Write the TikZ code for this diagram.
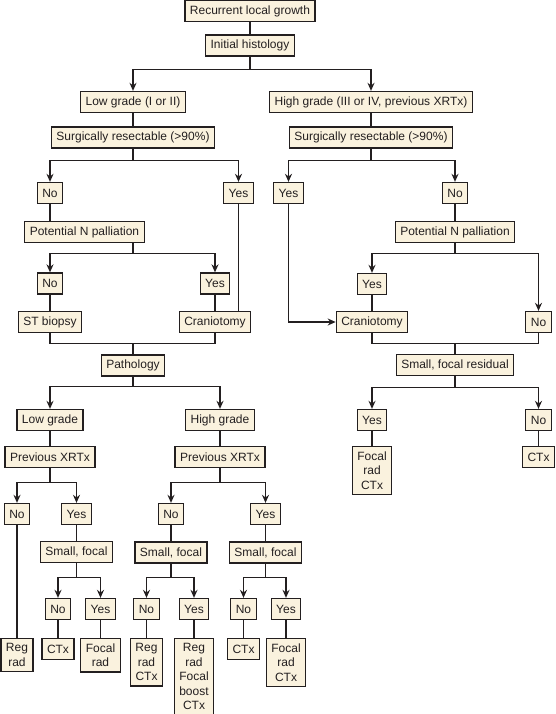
\documentclass[tikz,border=0pt]{standalone}
\usepackage{fontspec}
\setmainfont{Liberation Sans}
\usepackage{xcolor}
\definecolor{boxcream}{RGB}{250, 242, 222}
\definecolor{boxink}{RGB}{35, 31, 32}
\usetikzlibrary{arrows.meta}

\begin{document}
\begin{tikzpicture}[x=1pt, y=-1pt, >={Stealth[length=8pt, width=7pt]}, every node/.style={font=\fontsize{12}{13.5}\selectfont, text=boxink},
    box/.style={draw=boxink, fill=boxcream, line width=1.3pt, rectangle, inner xsep=5pt, inner ysep=0pt, minimum height=21pt},
    stack/.style={box, align=center, inner ysep=5pt, anchor=north, font=\fontsize{12}{14.5}\selectfont},
    link/.style={draw=boxink, line width=1.3pt}]
    \useasboundingbox (0,0) rectangle (556,714);

    \node [box] (rec) at (250,11) {Recurrent local growth};
    \node [box] (init) at (250,45.5) {Initial histology};
    \node [box] (lowg) at (133,102) {Low grade (I or II)};
    \node [box] (highg) at (371,102) {High grade (III or IV, previous XRTx)};
    \node [box] (surgl) at (133,137.5) {Surgically resectable (>90\%)};
    \node [box] (surgr) at (371,137.5) {Surgically resectable (>90\%)};

    \node [box] (nol) at (50,193) {No};
    \node [box] (yesl) at (238.5,193) {Yes};
    \node [box] (yesr) at (288.5,193) {Yes};
    \node [box] (nor) at (455,193) {No};
    \node [box] (potl) at (84.5,232) {Potential N palliation};
    \node [box] (potr) at (455,232) {Potential N palliation};
    \node [box] (nol2) at (50,283.5) {No};
    \node [box] (yesl2) at (215,283.5) {Yes};
    \node [box] (yesr2) at (372,284) {Yes};
    \node [box] (stb) at (50,322) {ST biopsy};
    \node [box] (crl) at (215,322) {Craniotomy};
    \node [box] (crr) at (372,322) {Craniotomy};
    \node [box] (nor2) at (538.5,322) {No};

    \node [box] (path) at (133,365.5) {Pathology};
    \node [box] (sfr) at (455,365) {Small, focal residual};
    \node [box] (yessr) at (372,420) {Yes};
    \node [box] (nosr) at (538.5,420) {No};
    \node [stack] (frcr) at (372,446) {Focal\\rad\\CTx};
    \node [stack] (ctxr) at (538.5,446) {CTx};

    \node [box] (lowp) at (50,420) {Low grade};
    \node [box] (highp) at (220,420) {High grade};
    \node [box] (prevl) at (50,457) {Previous XRTx};
    \node [box] (prevh) at (220,457) {Previous XRTx};
    \node [box] (nolo) at (17,514) {No};
    \node [box] (yeslo) at (76.5,514) {Yes};
    \node [box] (nohi) at (171,514) {No};
    \node [box] (yeshi) at (265.5,514) {Yes};
    \node [box] (sflo) at (76.5,552) {Small, focal};
    \node [box] (sfhn) at (171,552.5) {Small, focal};
    \node [box] (sfhy) at (265.5,552.5) {Small, focal};

    \node [box] (noa) at (58,609) {No};
    \node [box] (yesa) at (100.5,609) {Yes};
    \node [box] (nob) at (146.5,609) {No};
    \node [box] (yesb) at (194,609) {Yes};
    \node [box] (noc) at (243.5,609) {No};
    \node [box] (yesc) at (286,609) {Yes};
    \node [stack] (rr) at (17,638) {Reg\\rad};
    \node [stack] (ctxa) at (58,638) {CTx};
    \node [stack] (fra) at (100.5,638) {Focal\\rad};
    \node [stack] (rrc) at (146.5,638) {Reg\\rad\\CTx};
    \node [stack] (rrfb) at (194,638) {Reg\\rad\\Focal\\boost\\CTx};
    \node [stack] (ctxc) at (243.5,638) {CTx};
    \node [stack] (frcc) at (286,638) {Focal\\rad\\CTx};

    \draw [link] (rec) -- (init);
    \draw [link, ->] (init.south) -- ++(0,13) -| (lowg);
    \draw [link, ->] (init.south) -- ++(0,13) -| (highg);
    \draw [link] (lowg) -- (surgl);
    \draw [link] (highg) -- (surgr);
    \draw [link, ->] (surgl.south) -- ++(0,12) -| (nol);
    \draw [link, ->] (surgl.south) -- ++(0,12) -| (yesl);
    \draw [link, ->] (surgr.south) -- ++(0,12) -| (yesr);
    \draw [link, ->] (surgr.south) -- ++(0,12) -| (nor);

    \draw [link] (nol) -- (nol |- potl.north);
    \draw [link, ->] (surgl |- potl.south) -- ++(0,10) -| (nol2);
    \draw [link, ->] (surgl |- potl.south) -- ++(0,10) -| (yesl2);
    \draw [link] (nol2) -- (stb);
    \draw [link] (yesl2) -- (crl);
    \draw [link] (yesl) -- (yesl |- crl.north);
    \draw [link] (stb.south) -- ++(0,10) -| (crl.south);
    \draw [link] (path.north) -- ++(0,-11.5);

    \draw [link] (nor) -- (potr);
    \draw [link, ->] (potr.south) -- ++(0,10) -| (yesr2);
    \draw [link, ->] (potr.south) -- ++(0,10) -| (nor2);
    \draw [link] (yesr2) -- (crr);
    \draw [link, ->] (yesr.south) |- (crr);
    \draw [link] (crr.south) -- ++(0,10) -| (nor2.south);
    \draw [link] (sfr.north) -- ++(0,-11);
    \draw [link, ->] (sfr.south) -- ++(0,11) -| (yessr);
    \draw [link, ->] (sfr.south) -- ++(0,11) -| (nosr);
    \draw [link] (yessr) -- (frcr);
    \draw [link] (nosr) -- (ctxr);

    \draw [link, ->] (path.south) -- ++(0,10) -| (lowp);
    \draw [link, ->] (path.south) -- ++(0,10) -| (highp);
    \draw [link] (lowp) -- (prevl);
    \draw [link] (highp) -- (prevh);
    \draw [link, ->] (prevl.south) -- ++(0,14) -| (nolo);
    \draw [link, ->] (prevl.south) -- ++(0,14) -| (yeslo);
    \draw [link, ->] (prevh.south) -- ++(0,14) -| (nohi);
    \draw [link, ->] (prevh.south) -- ++(0,14) -| (yeshi);
    \draw [link] (nolo) -- (rr);
    \draw [link] (yeslo) -- (sflo);
    \draw [link] (nohi) -- (sfhn);
    \draw [link] (yeshi) -- (sfhy);

    \draw [link, ->] (sflo.south) -- ++(0,14) -| (noa);
    \draw [link, ->] (sflo.south) -- ++(0,14) -| (yesa);
    \draw [link, ->] (sfhn.south) -- ++(0,14) -| (nob);
    \draw [link, ->] (sfhn.south) -- ++(0,14) -| (yesb);
    \draw [link, ->] (sfhy.south) -- ++(0,14) -| (noc);
    \draw [link, ->] (sfhy.south) -- ++(0,14) -| (yesc);
    \draw [link] (noa) -- (ctxa);
    \draw [link] (yesa) -- (fra);
    \draw [link] (nob) -- (rrc);
    \draw [link] (yesb) -- (rrfb);
    \draw [link] (noc) -- (ctxc);
    \draw [link] (yesc) -- (frcc);
\end{tikzpicture}
\end{document}
